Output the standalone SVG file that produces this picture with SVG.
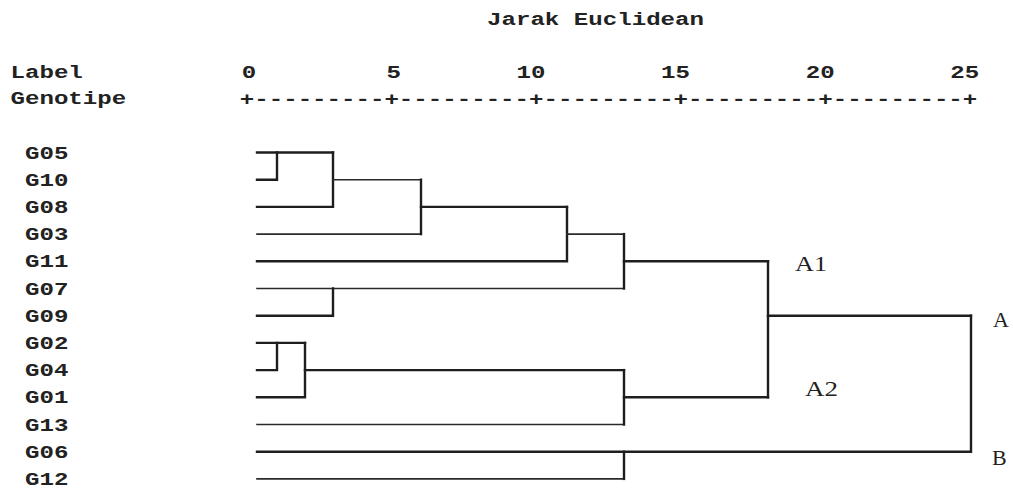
<svg xmlns="http://www.w3.org/2000/svg" width="1013" height="490" viewBox="0 0 1013 490">
  <style>
    .mono { font-family: "Liberation Mono", "DejaVu Sans Mono", monospace; font-size: 19px; font-weight: bold; fill: #222; }
    .serif { font-family: "Liberation Serif", "DejaVu Serif", serif; font-size: 22px; fill: #222; }
    .thick { fill: none; stroke: #1e1e1e; stroke-width: 2.4; stroke-linejoin: miter; stroke-linecap: square; }
    .thin { fill: none; stroke: #2a2a2a; stroke-width: 1.6; stroke-linecap: square; }
  </style>
  <rect width="1013" height="490" fill="#ffffff"/>

  <!-- axis heading and scale (monospace cells are 14.46px wide) -->
  <g id="axis">
    <text class="mono" x="487" y="25" textLength="217" lengthAdjust="spacingAndGlyphs">Jarak Euclidean</text>
    <text class="mono" x="10.5" y="78" textLength="72.3" lengthAdjust="spacingAndGlyphs">Label</text>
    <text class="mono" x="10.5" y="104" textLength="115.7" lengthAdjust="spacingAndGlyphs">Genotipe</text>
    <text class="mono" x="241.8" y="78" textLength="14.46" lengthAdjust="spacingAndGlyphs">0</text>
    <text class="mono" x="386.4" y="78" textLength="14.46" lengthAdjust="spacingAndGlyphs">5</text>
    <text class="mono" x="516.5" y="78" textLength="28.9" lengthAdjust="spacingAndGlyphs">10</text>
    <text class="mono" x="661.1" y="78" textLength="28.9" lengthAdjust="spacingAndGlyphs">15</text>
    <text class="mono" x="805.7" y="78" textLength="28.9" lengthAdjust="spacingAndGlyphs">20</text>
    <text class="mono" x="950.3" y="78" textLength="28.9" lengthAdjust="spacingAndGlyphs">25</text>
    <text class="mono" x="239.8" y="105" textLength="737.5" lengthAdjust="spacingAndGlyphs">+---------+---------+---------+---------+---------+</text>
  </g>

  <!-- leaves -->
  <g id="leaves">
    <g id="leaf-G05"><text class="mono" x="25" y="158.5" textLength="43.4" lengthAdjust="spacingAndGlyphs">G05</text></g>
    <g id="leaf-G10"><text class="mono" x="25" y="185.7" textLength="43.4" lengthAdjust="spacingAndGlyphs">G10</text></g>
    <g id="leaf-G08"><text class="mono" x="25" y="212.9" textLength="43.4" lengthAdjust="spacingAndGlyphs">G08</text></g>
    <g id="leaf-G03"><text class="mono" x="25" y="240.1" textLength="43.4" lengthAdjust="spacingAndGlyphs">G03</text></g>
    <g id="leaf-G11"><text class="mono" x="25" y="267.3" textLength="43.4" lengthAdjust="spacingAndGlyphs">G11</text></g>
    <g id="leaf-G07"><text class="mono" x="25" y="294.5" textLength="43.4" lengthAdjust="spacingAndGlyphs">G07</text></g>
    <g id="leaf-G09"><text class="mono" x="25" y="321.7" textLength="43.4" lengthAdjust="spacingAndGlyphs">G09</text></g>
    <g id="leaf-G02"><text class="mono" x="25" y="348.9" textLength="43.4" lengthAdjust="spacingAndGlyphs">G02</text></g>
    <g id="leaf-G04"><text class="mono" x="25" y="376.1" textLength="43.4" lengthAdjust="spacingAndGlyphs">G04</text></g>
    <g id="leaf-G01"><text class="mono" x="25" y="403.3" textLength="43.4" lengthAdjust="spacingAndGlyphs">G01</text></g>
    <g id="leaf-G13"><text class="mono" x="25" y="430.5" textLength="43.4" lengthAdjust="spacingAndGlyphs">G13</text></g>
    <g id="leaf-G06"><text class="mono" x="25" y="457.7" textLength="43.4" lengthAdjust="spacingAndGlyphs">G06</text></g>
    <g id="leaf-G12"><text class="mono" x="25" y="484.9" textLength="43.4" lengthAdjust="spacingAndGlyphs">G12</text></g>
  </g>

  <!-- cluster labels -->
  <g id="cluster-A1"><text class="serif" x="795" y="271" textLength="32" lengthAdjust="spacingAndGlyphs">A1</text></g>
  <g id="cluster-A2"><text class="serif" x="805" y="396" textLength="33" lengthAdjust="spacingAndGlyphs">A2</text></g>
  <g id="cluster-A"><text class="serif" x="993" y="327">A</text></g>
  <g id="cluster-B"><text class="serif" x="992" y="465">B</text></g>

  <!-- dendrogram branches -->
  <g id="connectors">
    <path class="thick" d="M257 152.5 H333"/>
    <path class="thick" d="M257 179.7 H277 V152.5"/>
    <path class="thick" d="M257 206.9 H333 V152.5"/>
    <path class="thin" d="M333 179.7 H421"/>
    <path class="thin" d="M257 234.1 H421"/>
    <path class="thick" d="M421 234.1 V179.7"/>
    <path class="thick" d="M421 206.9 H567"/>
    <path class="thick" d="M257 261.3 H567 V206.9"/>
    <path class="thin" d="M567 234.1 H624"/>
    <path class="thin" d="M257 288.5 H624"/>
    <path class="thick" d="M624 288.5 V234.1"/>
    <path class="thick" d="M257 315.7 H333 V288.5"/>
    <path class="thick" d="M624 261.3 H768"/>

    <path class="thick" d="M257 342.9 H305"/>
    <path class="thick" d="M257 370.1 H277 V342.9"/>
    <path class="thick" d="M257 397.3 H305 V342.9"/>
    <path class="thick" d="M305 370.1 H624"/>
    <path class="thin" d="M257 424.5 H624"/>
    <path class="thick" d="M624 424.5 V370.1"/>
    <path class="thick" d="M624 397.3 H768"/>

    <path class="thick" d="M768 397.3 V261.3"/>
    <path class="thick" d="M768 315.7 H971"/>
    <path class="thick" d="M257 451.7 H971 V315.7"/>
    <path class="thin" d="M257 478.9 H624"/>
    <path class="thick" d="M624 478.9 V451.7"/>
  </g>
</svg>
